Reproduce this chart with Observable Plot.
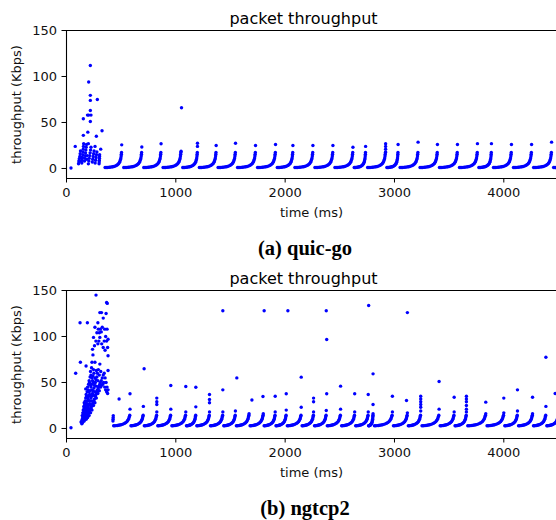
<!DOCTYPE html>
<html><head><meta charset="utf-8">
<script src="https://cdn.jsdelivr.net/npm/d3@7"></script>
<script src="https://cdn.jsdelivr.net/npm/@observablehq/plot@0.6"></script>
<style>
body{margin:0;background:#fff;}
#root{width:556px;position:relative;}
.cap{font-family:"Liberation Serif","DejaVu Serif",serif;font-weight:bold;font-size:20.5px;height:32px;line-height:32px;padding-top:4px;text-align:center;padding-left:54px;box-sizing:border-box;color:#000;}
svg{display:block;}
</style></head><body><div id="root"></div><script>
const xTicks = [0, 1000, 2000, 3000, 4000];
const yTicks = [0, 50, 100, 150];
const xDomain = [0, 4482];
const yDomain = [-10.9, 150];

// ---- quic-go ----
const quicGoBurst = [[41,0.5],[80,24],
[110,5],[113,7],[116,9],[119,11],[122,13],[125,16],[128,19],[132,8],[135,12],
[140,6],[143,9],[146,12],[149,15],[151,18],[153,21],[155,24],[157,27],[154,36],[154,54],
[165,8],[168,11],[171,14],[174,17],[177,20],[180,23],[183,26],[186,10],[189,14],
[195,39.5],[192,58],[203,94],[203,58],[200,27],
[200,5],[204,8],[208,11],[212,14],[216,17],[220,20],[224,23],
[218,112],[218,79.5],[218,74],[218,63],[224,58],[218,51],
[236,7],[240,10],[244,13],[248,16],[252,19],
[261,24],[273,35],[282,75],
[262,6],[266,9],[270,12],[274,15],[278,18],
[298,5],[299,7],[300,9],[301,11],[302,13],[303,15],[313,21],[325,41]];
const quicGoClusterEnds = [336,505,689,865,1048,1198,1369,1546,1729,1912,2071,2254,2437,2620,2736,2919,3033,3216,3393,3576,3759,3887,4070,4254,4437,4620];
const quicGoTop = [25.7,23.4,26.8,18.8,27.5,25,27.5,25,26,25,25,25,23,24,27,26,28.6,26,26,27,27,26,26,28.6,25];
const quicGoShapeF = [0.10,0.16,0.22,0.28,0.34,0.40,0.46,0.52,0.58,0.64,0.70,0.75,0.80,0.84,0.88,0.91,0.935,0.955,0.97,0.98,0.99];
const quicGoShapeV = [1.0,1.0,1.1,1.2,1.3,1.5,1.7,1.9,2.2,2.6,3.1,3.7,4.5,5.5,6.8,8.2,9.8,11.5,13.5,15.5,17.5];
const quicGoExtra = [[1052,66],[1198,24],[2919,24],[2919,21],[2919,18]];

// ---- ngtcp2 ----
const ngtcp2Burst = [[41,0.8],[84,60],[124,115],[191,115],[127,72],[179,68],[133,7],[270,145],[176,43],
[140,5],[140,8],[144,6],[144,10],[144,14],[149,7],[149,12],[149,17],[153,8],[153,11],[153,15],[153,20],
[158,9],[158,13],[158,18],[158,24],[162,8],[162,12],[162,16],[162,22],[162,28],[167,10],[167,15],[167,20],[167,26],
[171,11],[171,17],[171,23],[171,30],[176,12],[176,18],[176,25],[176,33],[180,10],[180,16],[180,22],[180,29],[180,37],
[184,13],[184,20],[184,27],[184,35],[189,14],[189,22],[189,30],[189,40],[193,12],[193,19],[193,26],[193,34],[193,45],
[198,15],[198,23],[198,32],[198,42],[202,17],[202,25],[202,35],[202,48],[207,14],[207,21],[207,30],[207,40],[207,52],
[211,18],[211,27],[211,37],[211,50],[216,20],[216,30],[216,41],[216,56],[220,17],[220,26],[220,36],[220,47],[220,62],
[224,22],[224,33],[224,45],[224,58],[229,24],[229,35],[229,48],[229,66],[233,20],[233,30],[233,42],[233,55],[233,72],
[238,26],[238,38],[238,52],[238,86],[242,28],[242,41],[242,57],[242,80],[247,25],[247,36],[247,50],[247,64],[247,99],
[251,30],[251,44],[251,60],[256,32],[256,47],[256,90],[260,28],[260,40],[260,55],[260,72],[260,110],
[264,35],[264,50],[269,37],[269,53],[269,95],[273,33],[273,46],[273,63],
[278,40],[278,56],[278,104],[282,42],[282,60],[287,38],[287,52],[287,92],[287,115],
[291,44],[291,64],[291,108],[296,46],[296,95],[300,41],[300,58],[300,104],
[305,48],[305,70],[305,99],[305,126],[309,50],[309,108],[313,45],[313,62],
[318,52],[318,105],[320,126],[322,47],[322,92],[327,55],[327,110],[331,48],
[336,58],[336,88],[336,120],[340,50],[345,60],[345,95],[349,45],[349,108],[353,55],[353,85],
[358,42],[358,100],[362,50],[362,125],[367,40],[367,95],[367,137],
[371,45],[371,108],[373,136],[376,38],[376,88],[380,42],[380,63],[380,79],[380,97]];
const ngtcp2ClusterEnds = [420,581,703,826,954,1091,1183,1308,1430,1545,1670,1800,1909,2010,2147,2260,2376,2507,2636,2760,2804,2981,3118,3240,3408,3546,3658,3835,4000,4125,4263,4385,4500];
const ngtcp2Top = [21,24,18,21,18,23.5,18,18,19,16,16,18,20,23,18,19.6,21,18,18,16,18,17,19,21,18,18,16,17,19,16,24,18];
const ngtcp2ShapeF = [0.07,0.14,0.21,0.28,0.35,0.42,0.49,0.56,0.63,0.70,0.76,0.82,0.87,0.91,0.94,0.965,0.985];
const ngtcp2ShapeV = [3.0,3.0,3.1,3.3,3.5,3.8,4.1,4.5,5.0,5.6,6.4,7.4,8.6,10.0,11.5,13.0,14.5];
const ngtcp2Extra = [[425,8],[426,10],[427,12],[428,14],[481,32],[581,37.7],[710,65],[826,33],[826,29],[826,26],[954,46.7],[1091,45.6],[1183,44.8],[1308,37],[1308,31.5],[1308,28],[1430,128],[1430,42],[1558,55],[1696,31],[1808,128],[1797,34.8],[1909,35],[2010,37.7],[2025,128],[2147,55.8],[2260,33],[2260,29],[2376,128],[2380,96.7],[2380,37.7],[2507,46],[2636,37.7],[2764,133.7],[2760,37],[2804,59.4],[2804,26],[2981,35],[3118,126],[3110,30.4],[3240,35],[3240,32],[3240,29],[3240,26],[3240,23],[3408,51],[3546,34],[3658,35],[3658,32],[3658,29],[3658,25],[3658,21],[3835,28.6],[4000,33],[4125,42],[4263,34],[4385,77.5],[4470,38]];

function buildPoints(burst, ends, tops, shapeF, shapeV, extra) {
  const pts = burst.map(([t, v]) => ({t, v}));
  for (let i = 1; i < ends.length; i++) {
    const a = ends[i - 1], b = ends[i];
    shapeF.forEach((f, k) => pts.push({t: a + f * (b - a), v: shapeV[k]}));
    pts.push({t: b, v: tops[i - 1]});
  }
  extra.forEach(([t, v]) => pts.push({t, v}));
  return pts;
}

function panel(points) {
  return Plot.plot({
    width: 556, height: 228,
    marginTop: 30, marginBottom: 50, marginLeft: 66, marginRight: 0,
    style: {fontFamily: "DejaVu Sans", fontSize: "13px", color: "#111", background: "#fff", overflow: "hidden"},
    x: {domain: xDomain},
    y: {domain: yDomain},
    marks: [
      Plot.dot(points, {x: "t", y: "v", r: 1.7, fill: "#0000ff", stroke: "none", clip: true}),
      Plot.ruleX([xDomain[0]], {stroke: "#000", strokeWidth: 1.1}),
      Plot.ruleY([yDomain[0]], {stroke: "#000", strokeWidth: 1.1}),
      Plot.ruleY([yDomain[1]], {stroke: "#000", strokeWidth: 1.1}),
      Plot.axisX({ticks: xTicks, tickSize: 4.5, tickPadding: 4.5, tickFormat: d => `${d}`, label: null, stroke: "#000"}),
      Plot.axisY({ticks: yTicks, tickSize: 4.5, tickPadding: 5, tickFormat: d => `${d}`, label: null, stroke: "#000"}),
      Plot.text(["packet throughput"], {frameAnchor: "top", lineAnchor: "bottom", textAnchor: "middle", dx: -8, dy: -6.5, fontSize: 16, fill: "#000"}),
      Plot.text(["time (ms)"], {frameAnchor: "bottom", lineAnchor: "bottom", textAnchor: "middle", dy: 38, fontSize: 13, fill: "#111"}),
      Plot.text(["throughput (Kbps)"], {frameAnchor: "left", lineAnchor: "middle", textAnchor: "middle", rotate: -90, dx: -50, fontSize: 13, fill: "#111"})
    ]
  });
}

const root = document.getElementById("root");
const qg = buildPoints(quicGoBurst, quicGoClusterEnds, quicGoTop, quicGoShapeF, quicGoShapeV, quicGoExtra);
const ng = buildPoints(ngtcp2Burst, ngtcp2ClusterEnds, ngtcp2Top, ngtcp2ShapeF, ngtcp2ShapeV, ngtcp2Extra);
root.appendChild(panel(qg));
const capA = document.createElement("div"); capA.className = "cap"; capA.textContent = "(a) quic-go"; root.appendChild(capA);
root.appendChild(panel(ng));
const capB = document.createElement("div"); capB.className = "cap"; capB.textContent = "(b) ngtcp2"; root.appendChild(capB);
</script></body></html>
